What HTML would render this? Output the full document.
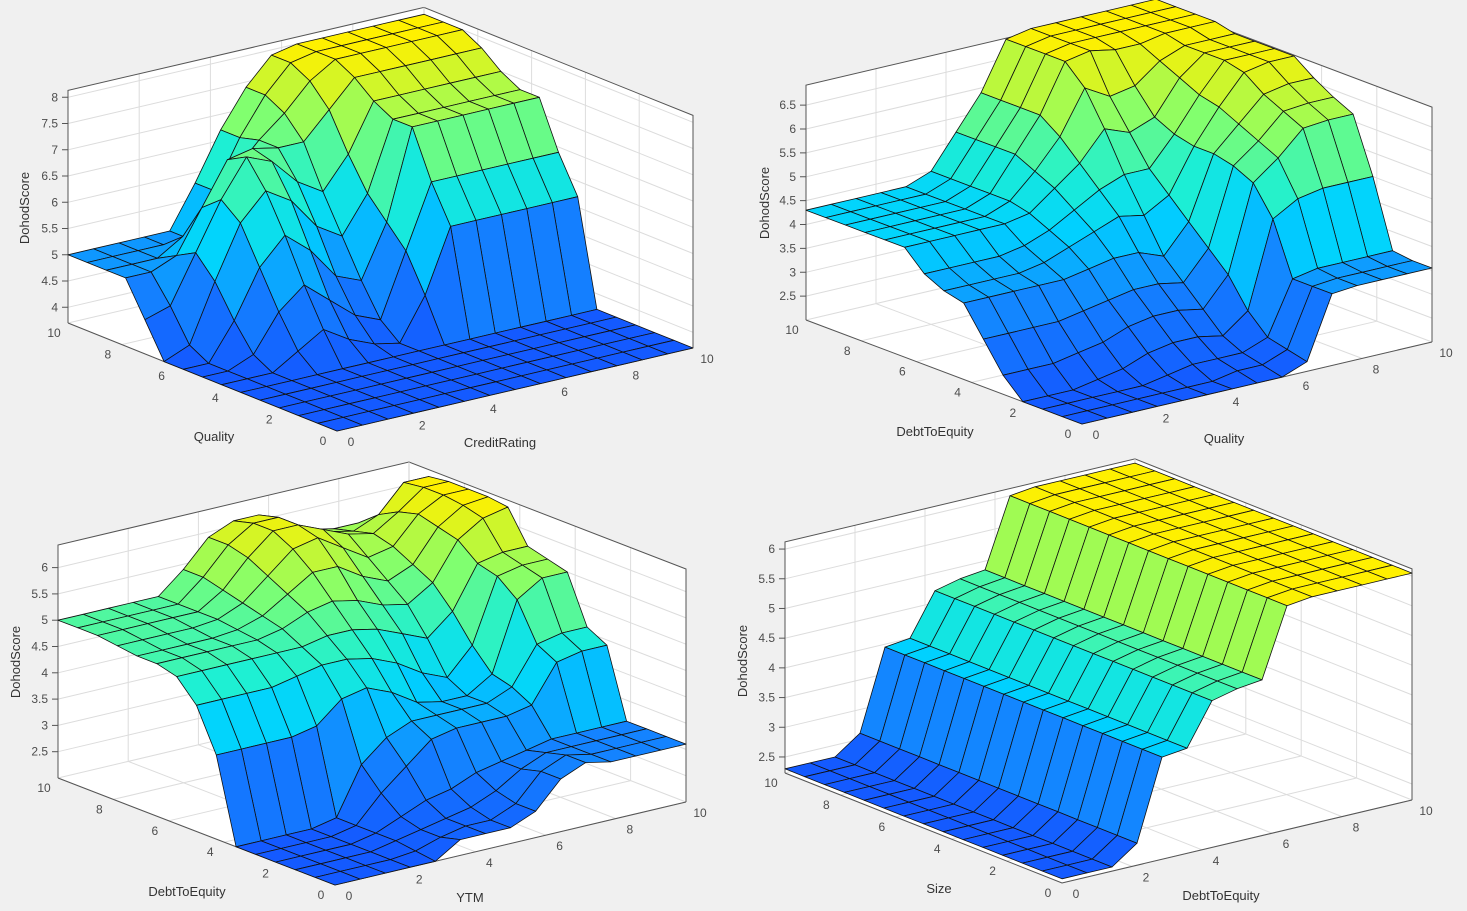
<!DOCTYPE html>
<html><head><meta charset="utf-8"><style>
html,body{margin:0;padding:0;background:#f0f0f0;}
svg{display:block;font-family:"Liberation Sans",sans-serif;}
</style></head><body>
<svg id="fig" width="1467" height="911" viewBox="0 0 1467 911" xmlns="http://www.w3.org/2000/svg"></svg>
<script>
// ---- data ----
const ticks010=[0,2,4,6,8,10];
const grid15=[0,0.714,1.429,2.143,2.857,3.571,4.286,5,5.714,6.429,7.143,7.857,8.571,9.286,10];
const p1z=[ // rows y index 0..14, cols x index 0..14
[3.7,3.7,3.7,3.7,3.7,3.7,3.7,3.7,3.7,3.7,3.7,3.7,3.7,3.7,3.7],
[3.7,3.7,3.7,3.7,3.7,3.7,3.7,3.7,3.7,3.7,3.7,3.7,3.7,3.7,3.7],
[3.7,3.7,3.7,3.7,3.7,3.7,3.7,3.7,3.7,3.7,3.7,3.7,3.7,3.7,3.7],
[3.7,3.7,3.7,3.7,3.7,3.7,3.7,3.7,3.7,3.7,3.7,3.7,3.7,3.7,3.7],
[3.7,3.7,3.7,3.7,3.7,3.7,3.7,3.7,3.7,3.7,3.7,3.7,3.7,3.7,3.7],
[3.7,3.7,3.7,3.7,3.7,3.7,3.7,3.7,3.7,3.7,3.7,3.7,3.7,3.7,3.7],
[3.7,3.7,3.7,4.0,4.3,4.0,3.8,3.7,4.5,5.7,5.7,5.7,5.7,5.7,5.7],
[3.7,3.7,3.9,4.6,5.0,4.6,4.2,4.0,5.2,6.4,6.4,6.4,6.4,6.4,6.4],
[3.7,3.7,4.4,5.3,5.8,5.4,4.8,4.6,5.6,7.3,7.3,7.3,7.3,7.3,7.3],
[3.7,3.9,5.0,6.0,6.5,6.2,5.6,5.3,6.0,7.3,7.3,7.3,7.3,7.3,7.3],
[4.35,4.5,5.4,6.3,7.0,6.8,6.3,6.0,6.6,7.5,7.5,7.5,7.5,7.5,7.5],
[5,5,5.2,6,6.8,6.9,6.8,6.8,7.3,7.8,7.8,7.8,7.8,7.8,7.8],
[5,5,5,5.3,5.8,6.3,6.8,7.2,7.7,8,8,8,8,8,8],
[5,5,5,5,5,5.8,6.7,7.4,7.9,8,8,8,8,8,8],
[5,5,5,5,5,5.8,6.7,7.4,7.9,8,8,8,8,8,8]];
const p1zt=[4,4.5,5,5.5,6,6.5,7,7.5,8];

const p2z=[
[2.0,2.0,2.0,2.0,2.0,2.0,2.0,2.0,2.0,2.2,3.5,3.55,3.55,3.55,3.55],
[2.0,2.0,2.0,2.0,2.0,2.0,2.0,2.1,2.1,2.3,3.5,3.55,3.55,3.55,3.55],
[2.0,2.0,2.0,2.0,2.0,2.1,2.2,2.2,2.2,2.4,3.5,3.6,3.6,3.6,3.6],
[2.0,2.0,2.0,2.1,2.2,2.4,2.5,2.5,2.4,2.8,4.6,4.9,5.0,5.0,5.0],
[2.4,2.4,2.4,2.5,2.6,2.8,2.9,2.9,2.8,3.4,5.2,5.6,6.1,6.15,6.15],
[3.0,3.0,3.0,3.0,3.1,3.2,3.3,3.3,3.2,3.8,5.4,5.8,6.3,6.35,6.35],
[3.6,3.6,3.6,3.6,3.6,3.7,3.8,3.8,3.6,4.2,5.5,6.0,6.5,6.6,6.6],
[3.7,3.7,3.7,3.7,3.8,4.0,4.2,4.4,4.3,4.6,5.5,6.2,6.8,6.9,6.9],
[3.9,3.9,3.9,3.9,4.0,4.2,4.5,4.8,5.0,5.0,5.6,6.3,6.9,6.9,6.9],
[4.3,4.3,4.3,4.3,4.3,4.4,4.8,5.2,5.8,5.6,5.8,6.5,6.9,6.9,6.9],
[4.3,4.3,4.3,4.3,4.3,4.5,5.0,5.6,6.5,6.2,6.3,6.7,6.9,6.9,6.9],
[4.3,4.3,4.3,4.3,4.3,4.5,5.2,5.9,6.9,7,6.9,6.9,7,7,7],
[4.3,4.3,4.3,4.3,4.3,4.5,5.2,5.9,6.9,7,7,7,7,7,7],
[4.3,4.3,4.3,4.3,4.3,4.5,5.2,5.9,6.9,7,7,7,7,7,7],
[4.3,4.3,4.3,4.3,4.3,4.5,5.2,5.9,6.9,7,7,7,7,7,7]];
const p2zt=[2.5,3,3.5,4,4.5,5,5.5,6,6.5];

const p3z=[
[2.0,2.0,2.0,2.0,2.0,2.3,2.3,2.3,2.5,3.0,3.2,3.1,3.1,3.1,3.1],
[2.0,2.0,2.0,2.0,2.05,2.2,2.3,2.3,2.5,3.0,3.2,3.1,3.1,3.1,3.1],
[2.0,2.0,2.0,2.0,2.1,2.2,2.3,2.4,2.6,2.9,3.1,3.1,3.1,3.1,3.1],
[2.0,2.0,2.0,2.0,2.1,2.3,2.5,2.6,2.8,2.9,3.0,3.1,3.1,3.1,3.1],
[2.0,2.0,2.0,2.0,2.1,2.6,3.0,3.4,3.5,3.5,3.5,3.6,4.3,4.4,4.4],
[2.0,2.0,2.0,2.0,2.1,3.0,3.4,3.6,3.6,3.6,3.6,3.8,4.5,4.6,4.6],
[3.6,3.6,3.6,3.6,3.7,4.1,4.2,4.0,3.7,3.6,3.6,3.9,5.2,5.5,5.5],
[4.4,4.4,4.4,4.4,4.5,4.6,4.6,4.5,4.3,4.0,3.8,4.3,5.5,5.6,5.6],
[4.8,4.8,4.8,4.8,4.8,4.8,4.9,4.9,4.8,4.6,4.4,4.8,5.6,5.7,5.7],
[4.9,4.9,4.9,4.9,4.9,5.0,5.2,5.3,5.2,5.0,4.9,5.2,5.9,6.2,6.3],
[4.9,4.9,4.9,4.9,4.95,5.1,5.4,5.7,5.7,5.4,5.2,5.4,6.0,6.3,6.35],
[4.95,4.95,4.95,4.95,5,5.2,5.6,6.0,6.1,5.8,5.5,5.6,6.1,6.35,6.35],
[5,5,5,5,5,5.3,5.8,6.2,6.2,6.0,5.8,5.7,6.0,6.35,6.35],
[5,5,5,5,5,5.4,5.9,6.2,6.2,5.9,5.7,5.6,5.8,6.3,6.3],
[5,5,5,5,5,5.4,5.9,6.1,6.1,5.8,5.6,5.5,5.5,5.5,5.4]];
const p3zt=[2.5,3,3.5,4,4.5,5,5.5,6];

const p4row=[2.3,2.3,2.3,2.6,3.95,4.0,4.7,4.8,4.85,6.0,6.05,6.05,6.05,6.05,6.05];
const p4z=grid15.map(()=>p4row.slice());
const p4zt=[2.5,3,3.5,4,4.5,5,5.5,6];

// ---- rendering ----
const NS="http://www.w3.org/2000/svg";
const svg=document.getElementById('fig');
function mk(tag,attrs,parent){const e=document.createElementNS(NS,tag);for(const k in attrs)e.setAttribute(k,attrs[k]);(parent||svg).appendChild(e);return e;}
function cmap(t){
  const st=[[0,[20,90,255]],[0.25,[20,130,255]],[0.45,[0,210,255]],[0.6,[30,240,210]],[0.78,[130,255,110]],[1,[255,240,0]]];
  t=Math.max(0,Math.min(1,t));
  for(let i=1;i<st.length;i++){if(t<=st[i][0]){const a=st[i-1],b=st[i];const f=(t-a[0])/(b[0]-a[0]);
    return 'rgb('+a[1].map((v,k)=>Math.round(v+(b[1][k]-v)*f)).join(',')+')';}}
  return 'rgb(255,240,0)';
}
function plot(c){
  const g=mk('g',{});
  
  
  const P=(x,y,z)=>[c.O[0]+x*c.ex[0]+y*c.ey[0], c.O[1]+x*c.ex[1]+y*c.ey[1]+(z-c.zmin)*c.ez];
  const pts=a=>a.map(p=>p[0].toFixed(1)+','+p[1].toFixed(1)).join(' ');
  const wall1=mk('polygon',{points:pts([P(0,10,c.zmin),P(10,10,c.zmin),P(10,10,c.zmax),P(0,10,c.zmax)]),fill:'#fff',stroke:'none'},g);
  
  const wall2=mk('polygon',{points:pts([P(10,0,c.zmin),P(10,10,c.zmin),P(10,10,c.zmax),P(10,0,c.zmax)]),fill:'#fff',stroke:'none'},g);
  
  const fl=mk('polygon',{points:pts([P(0,0,c.zmin),P(10,0,c.zmin),P(10,10,c.zmin),P(0,10,c.zmin)]),fill:'#fff',stroke:'none'},g);
  
  const gs={stroke:'#dcdcdc','stroke-width':1};
  ticks010.forEach(t=>{
    let a=P(t,10,c.zmin),b=P(t,10,c.zmax);mk('line',Object.assign({x1:a[0],y1:a[1],x2:b[0],y2:b[1]},gs),g);
    a=P(t,0,c.zmin);b=P(t,10,c.zmin);mk('line',Object.assign({x1:a[0],y1:a[1],x2:b[0],y2:b[1]},gs),g);
    a=P(10,t,c.zmin);b=P(10,t,c.zmax);mk('line',Object.assign({x1:a[0],y1:a[1],x2:b[0],y2:b[1]},gs),g);
    a=P(0,t,c.zmin);b=P(10,t,c.zmin);mk('line',Object.assign({x1:a[0],y1:a[1],x2:b[0],y2:b[1]},gs),g);
  });
  c.zt.forEach(z=>{
    let a=P(0,10,z),b=P(10,10,z),d=P(10,0,z);
    mk('polyline',Object.assign({points:pts([a,b,d]),fill:'none'},gs),g);
  });
  const bs={stroke:'#555','stroke-width':1,fill:'none'};
  mk('polyline',Object.assign({points:pts([P(0,10,c.zmin),P(0,10,c.zmax),P(10,10,c.zmax),P(10,0,c.zmax),P(10,0,c.zmin)])},bs),g);
  mk('line',{x1:P(10,10,c.zmin)[0],y1:P(10,10,c.zmin)[1],x2:P(10,10,c.zmax)[0],y2:P(10,10,c.zmax)[1],stroke:'#cfcfcf','stroke-width':1},g);
  mk('polyline',Object.assign({points:pts([P(0,10,c.zmin),P(0,0,c.zmin),P(10,0,c.zmin)])},bs),g);
  const ts={'font-size':12,fill:'#4d4d4d'};
  c.zt.forEach(z=>{const p=P(0,10,z);mk('line',{x1:p[0]-6,y1:p[1],x2:p[0],y2:p[1],stroke:'#555'},g);
    const t=mk('text',Object.assign({x:p[0]-10,y:p[1]+4,'text-anchor':'end'},ts),g);t.textContent=z;
    });
  ticks010.forEach(v=>{let p=P(v,0,c.zmin);
    let t=mk('text',Object.assign({x:p[0]+14,y:p[1]+15,'text-anchor':'middle'},ts),g);t.textContent=v;
    
    p=P(0,v,c.zmin);
    t=mk('text',Object.assign({x:p[0]-14,y:p[1]+14,'text-anchor':'middle'},ts),g);t.textContent=v;
    });
  const xs=c.xs,ys=c.ys,Z=c.Z;let zmn=Infinity,zmx=-Infinity;
  Z.forEach(r=>r.forEach(v=>{zmn=Math.min(zmn,v);zmx=Math.max(zmx,v);}));
  const cells=[];
  for(let j=0;j<ys.length-1;j++)for(let i=0;i<xs.length-1;i++){
    const cx=(xs[i]+xs[i+1])/2,cy=(ys[j]+ys[j+1])/2;
    cells.push({i,j,d:P(cx,cy,c.zmin)[1]});
  }
  cells.sort((a,b)=>a.d-b.d);
  const sg=mk('g',{},g);
  
  cells.forEach(({i,j})=>{
    const q=[P(xs[i],ys[j],Z[j][i]),P(xs[i+1],ys[j],Z[j][i+1]),P(xs[i+1],ys[j+1],Z[j+1][i+1]),P(xs[i],ys[j+1],Z[j+1][i])];
    const zm=(Z[j][i]+Z[j][i+1]+Z[j+1][i+1]+Z[j+1][i])/4;
    const f=mk('polygon',{points:pts(q),fill:cmap((zm-zmn)/(zmx-zmn||1)),stroke:'#111','stroke-width':0.8,'stroke-linejoin':'round'},sg);
    
  });
  const ls={'font-size':13,fill:'#333','text-anchor':'middle'};
  let t=mk('text',Object.assign({x:c.yl[0],y:c.yl[1]},ls),g);t.textContent=c.ylab;
  
  t=mk('text',Object.assign({x:c.xl[0],y:c.xl[1]},ls),g);t.textContent=c.xlab;
  
  t=mk('text',Object.assign({x:c.zl[0],y:c.zl[1],transform:'rotate(-90 '+c.zl[0]+' '+c.zl[1]+')'},ls),g);t.textContent='DohodScore';
  
}
plot({name:'plot-quality-creditrating',O:[337,431],ex:[35.6,-8.3],ey:[-26.9,-10.8],ez:-52.5,zmin:3.7,zmax:8.13,
  xs:grid15,ys:grid15,Z:p1z,zt:p1zt,xlab:'CreditRating',ylab:'Quality',xl:[500,447],yl:[214,441],zl:[29,208]});
plot({name:'plot-debttoequity-quality',O:[1082,424],ex:[35,-8.2],ey:[-27.6,-10.4],ez:-47.75,zmin:2.0,zmax:6.92,
  xs:grid15,ys:grid15,Z:p2z,zt:p2zt,xlab:'Quality',ylab:'DebtToEquity',xl:[1224,443],yl:[935,436],zl:[769,203]});
plot({name:'plot-debttoequity-ytm',O:[335,885],ex:[35.1,-8.3],ey:[-27.7,-10.7],ez:-52.6,zmin:2.0,zmax:6.43,
  xs:grid15,ys:grid15,Z:p3z,zt:p3zt,xlab:'YTM',ylab:'DebtToEquity',xl:[470,902],yl:[187,896],zl:[20,662]});
plot({name:'plot-size-debttoequity',O:[1062,883],ex:[35,-8.3],ey:[-27.7,-11],ez:-59.4,zmin:2.23,zmax:6.12,
  xs:grid15,ys:grid15,Z:p4z,zt:p4zt,xlab:'DebtToEquity',ylab:'Size',xl:[1221,900],yl:[939,893],zl:[747,661]});
</script>
</body></html>
